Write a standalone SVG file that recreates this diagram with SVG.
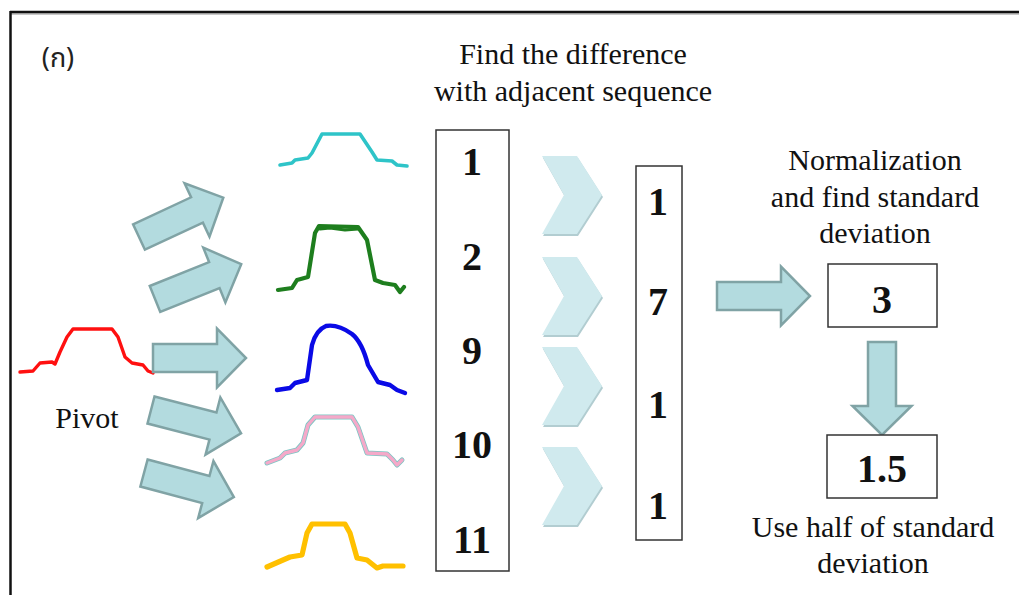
<svg xmlns="http://www.w3.org/2000/svg" width="1019" height="595" viewBox="0 0 1019 595">
  <style>
    .t { font-family: "Liberation Serif", "Times New Roman", serif; font-size: 30px; fill: #111; text-anchor: middle; }
    .num { font-family: "Liberation Serif", "Times New Roman", serif; font-size: 40px; font-weight: bold; fill: #111; text-anchor: middle; }
    .box { fill: #fff; stroke: #333; stroke-width: 1.5; }
    .arrow { fill: #b3dbdf; stroke: #80a3a5; stroke-width: 2.5; stroke-linejoin: miter; }
    .chev { fill: #d0eaee; }
    .chev-sh { fill: #b2cdd1; }
    .wave { fill: none; stroke-linecap: round; stroke-linejoin: round; }
  </style>
  <defs>
    <!-- block arrow pointing right, tail at origin -->
    <path id="blk" class="arrow" d="M0,-14 H64 V-29.5 L93,0 L64,29.5 V14 H0 Z"/>
    <!-- chevron, left-top corner at origin -->
    <path id="chevShape" d="M0,0 H35 L60,39 L35,78 H0 L22,39 Z"/>
  </defs>

  <rect width="1019" height="595" fill="#fff"/>

  <!-- frame -->
  <g id="frame">
    <line x1="10" y1="14" x2="1019" y2="14" stroke="#c8c8c8" stroke-width="2"/>
    <line x1="10" y1="12" x2="1019" y2="12" stroke="#111" stroke-width="2.5"/>
    <line x1="10.5" y1="11" x2="10.5" y2="595" stroke="#111" stroke-width="2.5"/>
  </g>

  <g id="label-ko">
    <text x="58" y="67" font-family="'Noto Sans Thai', 'Noto Sans', 'DejaVu Sans', sans-serif" font-size="27" fill="#222" text-anchor="middle">(ก)</text>
  </g>

  <!-- pivot signal -->
  <g id="pivot">
    <polyline class="wave" stroke="#ff1010" stroke-width="3.4" points="20,372 33,371 40,363 52,362 55,364 60,352 67,337 73,329 112,329 118,337 125,357 132,363 143,365 148,371 153,373"/>
    <text class="t" x="87" y="428">Pivot</text>
  </g>

  <!-- candidate signals -->
  <g id="signal-cyan">
    <polyline class="wave" stroke="#2ec4c8" stroke-width="3.6" points="280,165 292,163 295,160 308,158 312,153 322,134 360,134 372,152 377,160 392,161 397,165 407,166"/>
  </g>
  <g id="signal-green">
    <polyline class="wave" stroke="#1e7e1e" stroke-width="4.2" points="278,290 292,288 297,280 308,277 315,233 319,226 358,227 367,240 375,280 383,283 395,285 400,292 404,287"/>
    <polyline class="wave" stroke="#1e7e1e" stroke-width="3" points="320,229 330,228 345,230 358,229"/>
  </g>
  <g id="signal-blue">
    <path class="wave" stroke="#0a0ae6" stroke-width="4.4" d="M277,390 L290,388 L295,383 L307,380 L312,345 Q316,330 326,326 Q338,324 352,334 Q362,342 368,365 L378,382 L390,385 L397,390 L405,393"/>
  </g>
  <g id="signal-pink">
    <polyline class="wave" stroke="#7cc6c4" stroke-width="5" points="267,463 280,458 285,453 297,450 303,443 308,425 315,417 352,417 358,427 367,453 387,454 393,460 397,465 402,460"/>
    <polyline class="wave" stroke="#f5a9c9" stroke-width="3.4" points="267,463 280,458 285,453 297,450 303,443 308,425 315,417 352,417 358,427 367,453 387,454 393,460 397,465 402,460"/>
  </g>
  <g id="signal-orange">
    <polyline class="wave" stroke="#ffc000" stroke-width="5.2" points="267,567 283,560 290,557 302,555 307,533 312,524 345,524 350,533 357,558 367,560 377,568 383,566 403,566"/>
  </g>

  <!-- connectors: block arrows and chevrons -->
  <g id="connectors">
    <use href="#blk" transform="translate(139,237) rotate(-25)"/>
    <use href="#blk" transform="translate(155,299) rotate(-22)"/>
    <use href="#blk" transform="translate(153,358)"/>
    <use href="#blk" transform="translate(151,410) rotate(14.5)"/>
    <use href="#blk" transform="translate(144,473) rotate(15)"/>

    <g transform="translate(542,156)"><use href="#chevShape" class="chev-sh" transform="translate(1,2)"/><use href="#chevShape" class="chev"/></g>
    <g transform="translate(542,257)"><use href="#chevShape" class="chev-sh" transform="translate(1,2)"/><use href="#chevShape" class="chev"/></g>
    <g transform="translate(542,347)"><use href="#chevShape" class="chev-sh" transform="translate(1,2)"/><use href="#chevShape" class="chev"/></g>
    <g transform="translate(542,447)"><use href="#chevShape" class="chev-sh" transform="translate(1,2)"/><use href="#chevShape" class="chev"/></g>

    <use href="#blk" transform="translate(717,296)"/>
    <use href="#blk" transform="translate(882,342) rotate(90)"/>
  </g>

  <!-- heading -->
  <g id="title">
    <text class="t" x="573" y="64">Find the difference</text>
    <text class="t" x="573" y="101">with adjacent sequence</text>
  </g>

  <!-- sequence values -->
  <g id="seq-box">
    <rect class="box" x="436" y="130" width="73" height="441"/>
    <text class="num" x="472" y="175">1</text>
    <text class="num" x="472" y="270">2</text>
    <text class="num" x="472" y="364">9</text>
    <text class="num" x="472" y="458">10</text>
    <text class="num" x="472" y="553">11</text>
  </g>

  <!-- differences -->
  <g id="diff-box">
    <rect class="box" x="636" y="166" width="46" height="374"/>
    <text class="num" x="658" y="215">1</text>
    <text class="num" x="658" y="315">7</text>
    <text class="num" x="658" y="418">1</text>
    <text class="num" x="658" y="519">1</text>
  </g>

  <g id="std-label">
    <text class="t" x="875" y="170">Normalization</text>
    <text class="t" x="875" y="207">and find standard</text>
    <text class="t" x="875" y="243">deviation</text>
  </g>

  <g id="std-box">
    <rect class="box" x="828" y="264" width="109" height="63"/>
    <text class="num" x="882" y="313">3</text>
  </g>

  <g id="half-box">
    <rect class="box" x="827" y="435" width="110" height="63"/>
    <text class="num" x="882" y="482" font-size="44">1.5</text>
  </g>

  <g id="half-label">
    <text class="t" x="873" y="537">Use half of standard</text>
    <text class="t" x="873" y="573">deviation</text>
  </g>
</svg>
